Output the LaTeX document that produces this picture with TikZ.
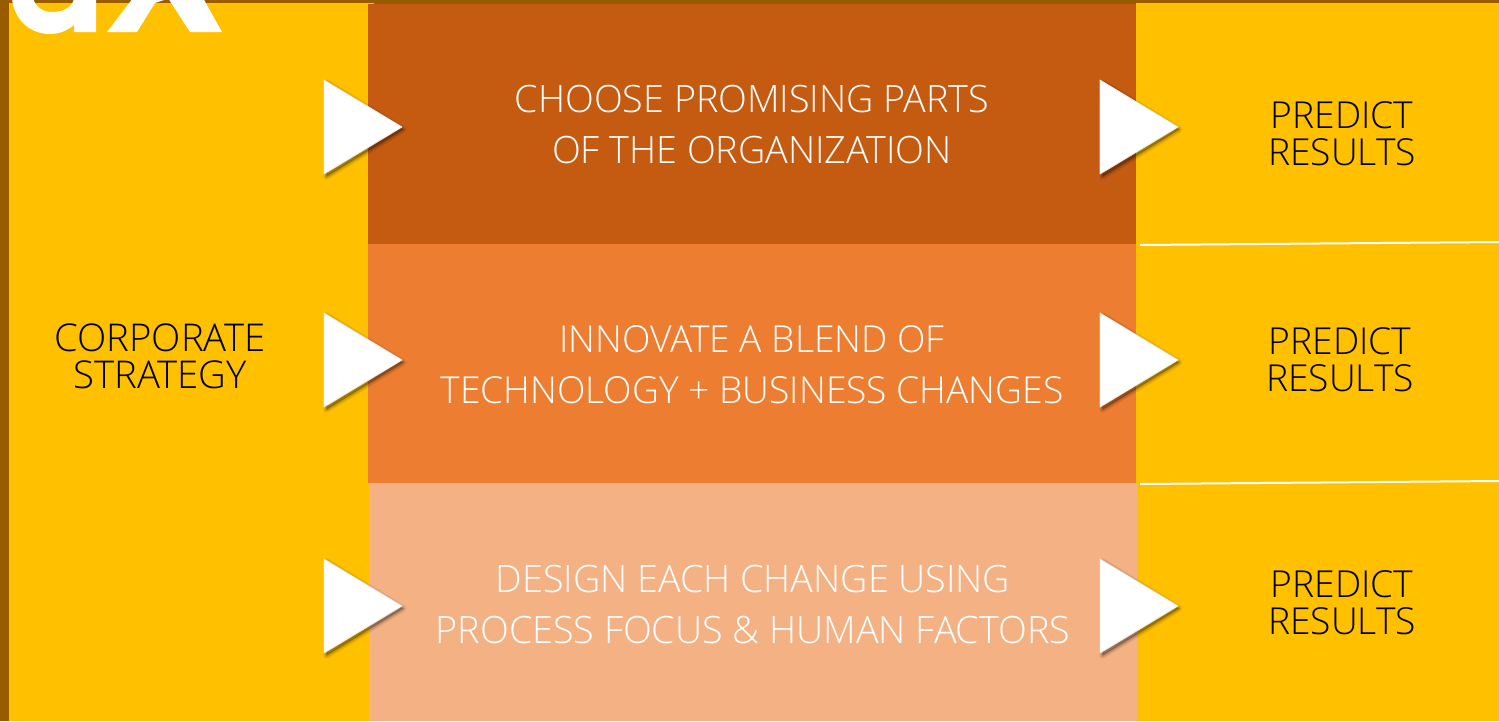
\documentclass[tikz,border=0pt]{standalone}
\usepackage{fontspec}
\setmainfont[UprightFont=* Light]{Open Sans}
\definecolor{bandbrown}{HTML}{985B00}
\definecolor{panelyellow}{HTML}{FFC000}
\definecolor{rowdark}{HTML}{C55A11}
\definecolor{rowmid}{HTML}{ED7D31}
\definecolor{rowlight}{HTML}{F4B183}
\tikzset{
  lighttext/.style={text=white,align=center,font=\fontsize{37.7}{51}\selectfont,inner sep=0pt},
  lighttextb/.style={lighttext,font=\fontsize{37.2}{51}\selectfont},
  darktext/.style={text=black,align=center,font=\fontsize{37.2}{37}\selectfont,inner sep=0pt},
  corptext/.style={text=black,align=center,font=\fontsize{38.3}{37}\selectfont,inner sep=0pt},
  rule/.style={draw=white,line width=2pt},
}
\newcommand{\playmark}[2]{%
  \foreach \s/\o in {7/0.04,5.5/0.05,4/0.06,2.5/0.06,1/0.07}{
    \path[fill=black,fill opacity=\o,draw=black,draw opacity=\o,line join=round,line width=\s pt]
      (#1+2.5,#2-47+2.5) -- (#1+2.5,#2+48+1.5) -- (#1+79,#2+2.5) -- cycle;
  }
  \fill[white,draw=white!92!black,line width=0.8pt,line join=round] (#1,#2-47) -- (#1,#2+47) -- (#1+78,#2) -- cycle;
}
\begin{document}
\begin{tikzpicture}[x=1pt,y=-1pt]
\useasboundingbox (0,0) rectangle (1499,721);
\fill[bandbrown] (0,0) rectangle (1499,721);
\fill[panelyellow] (9,3) rectangle (374,721);
\fill[panelyellow] (1136,3) rectangle (1499,721);
\fill[rowdark] (368,4) rectangle (1136,244);
\fill[rowmid] (368,244) rectangle (1136,483);
\fill[rowlight] (369,483) rectangle (1137,721);
% logo fragment
\fill[white,even odd rule] (12,-2) .. controls (14,20) and (30,34) .. (50,34) .. controls (60,34) and (68,30) .. (74,25) -- (74,32) -- (96,32) -- (96,-2) -- (74,-2) .. controls (73,6) and (65,12) .. (52,12) .. controls (42,12) and (35,6) .. (33,-2) -- cycle;
\fill[white] (107,32) -- (137,32) -- (155,3) -- (170,-2) -- (133,-2) -- cycle;
\fill[white] (168,-2) -- (203,-2) -- (222,32) -- (190,32) -- cycle;
% rules
\draw[rule] (1140,245) -- (1499,242);
\draw[rule] (1140,484) -- (1499,481);
% triangles
\playmark{324}{127}
\playmark{324}{360}
\playmark{324}{606}
\playmark{1100}{127}
\playmark{1100}{360}
\playmark{1100}{606}
% texts
\node[corptext] (corp) at (160,356) {CORPORATE\\STRATEGY};
\node[lighttext] (row1) at (752,125) {CHOOSE PROMISING PARTS\\OF THE ORGANIZATION};
\node[lighttextb] (row2) at (752,365) {INNOVATE A BLEND OF\\TECHNOLOGY + BUSINESS CHANGES};
\node[lighttext] (row3) at (753,605) {DESIGN EACH CHANGE USING\\PROCESS FOCUS \& HUMAN FACTORS};
\node[darktext] (res1) at (1342,134) {PREDICT\\RESULTS};
\node[darktext] (res2) at (1340,360) {PREDICT\\RESULTS};
\node[darktext] (res3) at (1342,603) {PREDICT\\RESULTS};
\end{tikzpicture}
\end{document}
